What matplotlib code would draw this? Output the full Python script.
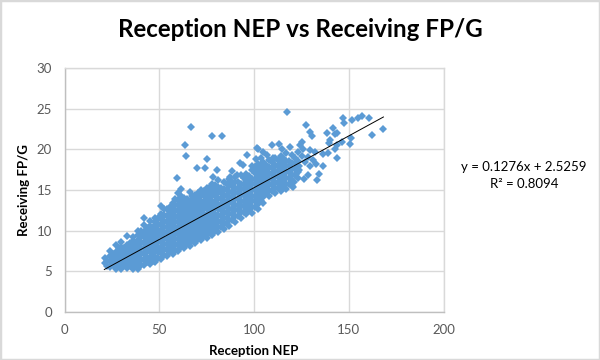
import matplotlib
matplotlib.use('Agg')
import matplotlib.pyplot as plt
from matplotlib.patches import Rectangle

title = 'Reception NEP vs Receiving FP/G'
x_label = 'Reception NEP'
y_label = 'Receiving FP/G'
x_ticks = [0, 50, 100, 150, 200]
y_ticks = [0, 5, 10, 15, 20, 25, 30]
equation = 'y = 0.1276x + 2.5259\nR² = 0.8094'
trend_x = [21, 168.3]
trend_y = [5.2, 24.0]

# scattered points away from the main band
outlier_x = [66.8, 78.1, 83.3, 63.8, 64.2, 75.4, 69.8, 74.4, 59.2, 96.2, 101.8, 101.1, 92.7, 94.4, 98.8,
             80.4, 88.6, 78.6, 87.4, 90.9, 61.3, 117.6, 127.5, 147.2, 147.7, 151.6, 154.8, 156.9, 160.9,
             168.3, 162.5, 151.3, 150.9, 141.9, 138.4, 129.6, 130.5, 144.0, 142.8, 140.2, 139.8, 146.3,
             142.8, 143.7, 144.0, 139.3, 125.2, 124.3, 113.4, 109.4, 114.7, 102.3, 105.0, 119.0, 129.6,
             136.6, 134.5, 133.5, 126.5, 129.6, 128.7, 132.8, 136.3, 132.3, 120.8, 21.2, 21.2,
             125.5, 127.0, 124.0, 126.0, 128.5, 131.0, 122.0, 123.5, 121.0, 110.2, 107.0, 103.5]
outlier_y = [22.8, 21.6, 21.6, 20.5, 19.2, 18.8, 17.7, 17.7, 16.5, 19.3, 20.2, 18.8, 18.3, 18.1, 17.9,
             17.5, 17.4, 16.6, 16.6, 16.8, 15.1, 24.6, 23.0, 23.9, 23.3, 23.6, 23.9, 24.1, 23.9,
             22.5, 21.8, 21.4, 20.7, 22.7, 22.0, 22.2, 21.6, 22.0, 21.9, 21.2, 20.8, 20.9,
             20.1, 20.5, 18.9, 19.5, 20.9, 20.5, 20.7, 20.5, 20.1, 20.1, 19.7, 20.3, 19.9,
             17.9, 17.0, 16.2, 16.4, 17.9, 16.8, 18.2, 19.4, 19.7, 15.4, 6.6, 6.0,
             19.2, 18.5, 18.0, 20.0, 19.1, 18.7, 17.0, 17.5, 16.0, 18.9, 19.3, 19.0]

# main band, one list of y values per x column
band_x = [24, 27, 30, 33, 36, 39, 42, 45, 48, 51, 54, 57, 60, 63, 66, 69, 72, 75,
          78, 81, 84, 87, 90, 93, 96, 99, 102, 105, 108, 111, 114, 117, 120, 123]
band_y = [
    [5.5, 6.2, 6.9, 7.5],
    [5.3, 6.0, 6.7, 7.4, 8.2],
    [5.3, 6.0, 6.7, 7.4, 8.0, 8.6],
    [5.4, 6.1, 6.8, 7.5, 8.2, 9.3],
    [5.3, 6.0, 6.7, 7.4, 8.1, 8.7, 9.2],
    [5.3, 6.0, 6.7, 7.4, 8.1, 8.8, 9.4, 10.0],
    [5.7, 6.4, 7.1, 7.8, 8.5, 9.2, 9.8, 10.7, 11.6],
    [5.9, 6.6, 7.3, 8.0, 8.7, 9.4, 10.1, 10.6, 11.2],
    [6.1, 6.8, 7.5, 8.2, 8.9, 9.6, 10.3, 11.0, 11.5],
    [6.5, 7.2, 7.9, 8.6, 9.3, 10.0, 10.7, 11.4, 12.0, 13.0],
    [6.9, 7.6, 8.3, 9.0, 9.7, 10.4, 11.1, 11.8, 12.6],
    [7.1, 7.8, 8.5, 9.2, 9.9, 10.6, 11.3, 12.0, 12.7, 13.4],
    [7.5, 8.2, 8.9, 9.6, 10.3, 11.0, 11.7, 12.4, 13.1, 13.8, 14.6],
    [7.8, 8.5, 9.2, 9.9, 10.6, 11.3, 12.0, 12.7, 13.4, 14.0],
    [8.1, 8.8, 9.5, 10.2, 10.9, 11.6, 12.3, 13.0, 13.7, 14.7],
    [8.5, 9.2, 9.9, 10.6, 11.3, 12.0, 12.7, 13.4, 14.0, 14.4],
    [8.8, 9.5, 10.2, 10.9, 11.6, 12.3, 13.0, 13.7, 14.4, 15.0],
    [9.1, 9.8, 10.5, 11.2, 11.9, 12.6, 13.3, 14.0, 14.7, 15.3],
    [9.5, 10.2, 10.9, 11.6, 12.3, 13.0, 13.7, 14.4, 15.1, 15.8],
    [9.8, 10.5, 11.2, 11.9, 12.6, 13.3, 14.0, 14.7, 15.4, 16.2],
    [10.2, 10.9, 11.6, 12.3, 13.0, 13.7, 14.4, 15.1, 16.0],
    [10.6, 11.3, 12.0, 12.7, 13.4, 14.1, 14.8, 15.5, 16.4],
    [11.1, 11.8, 12.5, 13.2, 13.9, 14.6, 15.3, 16.0, 16.6],
    [11.6, 12.3, 13.0, 13.7, 14.4, 15.1, 15.8, 16.8],
    [12.0, 12.7, 13.4, 14.1, 14.8, 15.5, 16.2, 17.0],
    [12.2, 12.9, 13.6, 14.3, 15.0, 15.7, 16.4, 17.5],
    [12.6, 13.3, 14.0, 14.7, 15.4, 16.1, 16.8, 17.5, 18.2],
    [13.4, 14.1, 14.8, 15.5, 16.2, 16.9, 17.6, 18.4],
    [14.3, 15.0, 15.7, 16.4, 17.1, 17.8, 18.7],
    [14.6, 15.3, 16.0, 16.7, 17.4, 18.1, 19.0],
    [14.9, 15.6, 16.3, 17.0, 17.7, 18.4, 19.2],
    [15.1, 15.8, 16.5, 17.2, 17.9, 18.6, 19.5],
    [15.5, 16.2, 16.9, 17.6, 18.3, 19.3],
    [16.5, 17.2, 17.9, 18.6, 19.7],
]

# points between the columns above, the dense middle of the cloud
fill_x = [22.5, 25.5, 28.5, 31.5, 34.5, 37.5, 40.5, 43.5, 46.5, 49.5, 52.5, 55.5, 58.5, 61.5, 64.5, 67.5, 70.5,
          73.5, 76.5, 79.5, 82.5, 85.5, 88.5, 91.5, 94.5, 97.5, 100.5, 103.5, 106.5, 109.5, 112.5, 115.5, 118.5, 121.5]
fill_y = [
    [5.6, 6.2],
    [5.7, 6.4, 7.1],
    [5.6, 6.3, 7.0, 7.7],
    [5.7, 6.4, 7.1, 7.8],
    [5.7, 6.4, 7.1, 7.8, 8.5],
    [5.7, 6.4, 7.1, 7.8, 8.5],
    [5.8, 6.5, 7.2, 7.9, 8.6, 9.3, 10.0],
    [6.1, 6.8, 7.5, 8.2, 8.9, 9.6, 10.3],
    [6.3, 7.0, 7.7, 8.4, 9.1, 9.8, 10.5],
    [6.6, 7.3, 8.0, 8.7, 9.4, 10.1, 10.8, 11.5],
    [7.0, 7.7, 8.4, 9.1, 9.8, 10.5, 11.2, 11.9, 12.6],
    [7.3, 8.0, 8.7, 9.4, 10.1, 10.8, 11.5, 12.2, 12.9],
    [7.6, 8.3, 9.0, 9.7, 10.4, 11.1, 11.8, 12.5, 13.2, 13.9],
    [8.0, 8.7, 9.4, 10.1, 10.8, 11.5, 12.2, 12.9, 13.6, 14.2],
    [8.3, 9.0, 9.7, 10.4, 11.1, 11.8, 12.5, 13.2, 13.9],
    [8.7, 9.4, 10.1, 10.8, 11.5, 12.2, 12.9, 13.6, 14.3],
    [9.0, 9.7, 10.4, 11.1, 11.8, 12.5, 13.2, 13.9, 14.6],
    [9.3, 10.0, 10.7, 11.4, 12.1, 12.8, 13.5, 14.2, 14.9],
    [9.7, 10.4, 11.1, 11.8, 12.5, 13.2, 13.9, 14.6, 15.3],
    [10.0, 10.7, 11.4, 12.1, 12.8, 13.5, 14.2, 14.9, 15.6],
    [10.4, 11.1, 11.8, 12.5, 13.2, 13.9, 14.6, 15.3],
    [10.8, 11.5, 12.2, 12.9, 13.6, 14.3, 15.0, 15.7],
    [11.3, 12.0, 12.7, 13.4, 14.1, 14.8, 15.5, 16.0],
    [11.8, 12.5, 13.2, 13.9, 14.6, 15.3, 16.0],
    [12.3, 13.0, 13.7, 14.4, 15.1, 15.8, 16.5],
    [12.5, 13.2, 13.9, 14.6, 15.3, 16.0, 16.7],
    [12.9, 13.6, 14.3, 15.0, 15.7, 16.4, 17.1, 17.8],
    [13.6, 14.3, 15.0, 15.7, 16.4, 17.1, 17.8],
    [14.6, 15.3, 16.0, 16.7, 17.4, 18.1],
    [14.9, 15.6, 16.3, 17.0, 17.7, 18.4],
    [15.2, 15.9, 16.6, 17.3, 18.0, 18.7],
    [15.4, 16.1, 16.8, 17.5, 18.2, 18.9],
    [15.8, 16.5, 17.2, 17.9, 18.6],
    [16.9, 17.6, 18.3, 19.0],
]

blue = '#5B9BD5'
grid = '#D9D9D9'
tick_grey = '#595959'

plt.rcParams['font.family'] = ['Lato', 'DejaVu Sans']

fig = plt.figure(figsize=(6, 3.6), dpi=100)
fig.patches.append(Rectangle((0, 0), 1, 1, transform=fig.transFigure, fill=False,
                             edgecolor=grid, linewidth=2.5))
ax = fig.add_axes([64.5 / 600, 1 - 311.7 / 360, 379 / 600, 243.4 / 360])

for xs, columns in ((band_x, band_y), (fill_x, fill_y)):
    for x, ys in zip(xs, columns):
        ax.plot([x] * len(ys), ys, linestyle='none', marker='D', markersize=4.0,
                color=blue, markeredgewidth=0, zorder=3)
ax.plot(outlier_x, outlier_y, linestyle='none', marker='D', markersize=4.0,
        color=blue, markeredgewidth=0, zorder=3)
ax.plot(trend_x, trend_y, color='black', linewidth=0.7, zorder=4)

ax.set_xlim(0, 200)
ax.set_ylim(0, 30)
ax.set_xticks(x_ticks)
ax.set_yticks(y_ticks)
ax.grid(True, color=grid, linewidth=1)
ax.set_axisbelow(True)
ax.tick_params(length=0, labelsize=9.5, labelcolor=tick_grey, pad=9)
for name, spine in ax.spines.items():
    spine.set_color('#BFBFBF' if name in ('left', 'bottom') else grid)
    spine.set_linewidth(1)

ax.set_xlabel(x_label, fontsize=9.5, fontweight='bold', labelpad=6)
ax.set_ylabel(y_label, fontsize=9.5, fontweight='bold', labelpad=5)
fig.text(0.5, 0.918, title, ha='center', va='center', fontsize=17.4, fontweight='bold')
fig.text(524 / 600, 1 - 175.5 / 360, equation, ha='center', va='center', fontsize=9.5,
         linespacing=1.45)

fig.savefig('out.png', dpi=100)
